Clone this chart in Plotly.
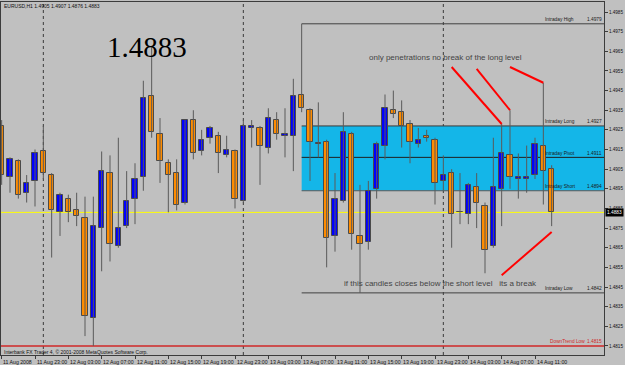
import plotly.graph_objects as go

# ---------------- data ----------------
# H1 bars from 11 Aug 2008 19:00 to 14 Aug 2008 13:00, index = bar number
opens = [1.4927, 1.4901, 1.4909, 1.4893, 1.4899, 1.4914, 1.4902, 1.4883, 1.4890, 1.4884,
         1.4880, 1.4829, 1.4875, 1.4903, 1.4866, 1.4876, 1.4890, 1.4901, 1.4942, 1.4923,
         1.4908, 1.4903, 1.4888, 1.4930, 1.4914, 1.4921, 1.4922, 1.4912, 1.4914, 1.4889,
         1.4926, 1.4926, 1.4916, 1.4930, 1.4922, 1.4922, 1.4943, 1.4935, 1.4918, 1.4919,
         1.4871, 1.4889, 1.4923, 1.4871, 1.4868, 1.4895, 1.4917, 1.4935, 1.4934, 1.4928,
         1.4918, 1.4922, 1.4920, 1.4899, 1.4903, 1.4883, 1.4882, 1.4896, 1.4886, 1.4866,
         1.4895, 1.4912, 1.4900, 1.4900, 1.4902, 1.4917, 1.4905]
highs = [1.4930, 1.4911, 1.4910, 1.4902, 1.4915, 1.4927, 1.4903, 1.4893, 1.4892, 1.4893,
         1.4891, 1.4891, 1.4914, 1.4912, 1.4921, 1.4904, 1.4908, 1.4950, 1.4967, 1.4931,
         1.4910, 1.4910, 1.4930, 1.4935, 1.4925, 1.4927, 1.4924, 1.4922, 1.4915, 1.4930,
         1.4930, 1.4927, 1.4936, 1.4934, 1.4936, 1.4951, 1.4979, 1.4936, 1.4939, 1.4920,
         1.4903, 1.4934, 1.4924, 1.4897, 1.4899, 1.4919, 1.4943, 1.4945, 1.4940, 1.4930,
         1.4926, 1.4925, 1.4921, 1.4912, 1.4905, 1.4903, 1.4898, 1.4903, 1.4888, 1.4921,
         1.4928, 1.4935, 1.4913, 1.4917, 1.4921, 1.4949, 1.4907]
lows = [1.4897, 1.4893, 1.4890, 1.4888, 1.4886, 1.4900, 1.4860, 1.4871, 1.4878, 1.4876,
        1.4820, 1.4815, 1.4853, 1.4858, 1.4865, 1.4875, 1.4877, 1.4894, 1.4921, 1.4898,
        1.4883, 1.4884, 1.4887, 1.4910, 1.4912, 1.4918, 1.4903, 1.4911, 1.4885, 1.4888,
        1.4916, 1.4897, 1.4913, 1.4920, 1.4911, 1.4904, 1.4934, 1.4899, 1.4911, 1.4855,
        1.4863, 1.4888, 1.4864, 1.4842, 1.4864, 1.4890, 1.4910, 1.4931, 1.4916, 1.4908,
        1.4916, 1.4919, 1.4887, 1.4894, 1.4865, 1.4877, 1.4877, 1.4875, 1.4852, 1.4865,
        1.4876, 1.4895, 1.4890, 1.4893, 1.4900, 1.4887, 1.4876]
closes = [1.4902, 1.4910, 1.4892, 1.4898, 1.4913, 1.4903, 1.4884, 1.4892, 1.4883, 1.4881,
          1.4830, 1.4876, 1.4904, 1.4867, 1.4875, 1.4889, 1.4900, 1.4941, 1.4924, 1.4909,
          1.4902, 1.4887, 1.4930, 1.4913, 1.4920, 1.4926, 1.4913, 1.4915, 1.4890, 1.4927,
          1.4927, 1.4917, 1.4931, 1.4923, 1.4923, 1.4942, 1.4936, 1.4919, 1.4918, 1.4870,
          1.4890, 1.4924, 1.4872, 1.4867, 1.4894, 1.4918, 1.4936, 1.4933, 1.4927, 1.4919,
          1.4920, 1.4921, 1.4898, 1.4902, 1.4882, 1.4883, 1.4897, 1.4888, 1.4864, 1.4896,
          1.4913, 1.4901, 1.4901, 1.4901, 1.4918, 1.4904, 1.4883]

time_labels = ["11 Aug 2008", "11 Aug 23:00", "12 Aug 03:00", "12 Aug 07:00", "12 Aug 11:00",
               "12 Aug 15:00", "12 Aug 19:00", "12 Aug 23:00", "13 Aug 03:00", "13 Aug 07:00",
               "13 Aug 11:00", "13 Aug 15:00", "13 Aug 19:00", "13 Aug 23:00", "14 Aug 03:00",
               "14 Aug 07:00", "14 Aug 11:00"]
time_label_bars = [0, 4, 8, 12, 16, 20, 24, 28, 32, 36, 40, 44, 48, 52, 56, 60, 64]
day_separator_bars = [5, 29, 53]

price_ticks = [1.4815, 1.4825, 1.4835, 1.4845, 1.4855, 1.4865, 1.4875, 1.4885, 1.4895,
               1.4905, 1.4915, 1.4925, 1.4935, 1.4945, 1.4955, 1.4965, 1.4975, 1.4985]

level_names = ["Intraday High", "Intraday Long", "Intraday Pivot", "Intraday Short", "Intraday Low"]
level_values = [1.4979, 1.4927, 1.4911, 1.4894, 1.4842]
level_start_bar = 36
downtrend_low = 1.4815
current_price = 1.4883
header_text = "EURUSD,H1 1.4905 1.4907 1.4876 1.4883"
copyright_text = "Interbank FX Trader 4, \u00a9 2001-2008 MetaQuotes Software Corp."

# hand-drawn trend lines: (bar0, price0, bar1, price1)
red_lines = [(54, 1.4957, 60, 1.4928), (57, 1.4956, 61, 1.4935),
             (61, 1.4957, 65, 1.4949), (60, 1.4851, 66, 1.4873)]
note_top = ("only penetrations no break of the long level", 43.9, 1.4962)
note_bottom = ("if this candles closes below the short level   its a break", 41.0, 1.4847)
big_label = ("1.4883", 17.4, 1.4967)

# ---------------- layout geometry ----------------
W, H = 625, 365
L, R, T, B = 1, 604, 2, 355
X_RANGE = [-0.08, 72.28]
Y_RANGE = [1.481038, 1.49901]


def paper_x(px):
    return (px - L) / (R - L)


def paper_y(py):
    return (B - py) / (B - T)


BLUE = "#0000FF"
ORANGE = "#FF8C00"
CYAN = "#14B6E8"
GRID = "#3C3C3C"

idx = list(range(len(opens)))
body_base = [min(o, c) for o, c in zip(opens, closes)]
body_h = [max(abs(c - o), 0.00002) for o, c in zip(opens, closes)]
body_col = [BLUE if c >= o else ORANGE for o, c in zip(opens, closes)]

wx, wy = [], []
for i, h, l in zip(idx, highs, lows):
    wx += [i, i, None]
    wy += [l, h, None]

fig = go.Figure()
fig.add_trace(go.Scatter(x=wx, y=wy, mode="lines", line=dict(color="#5A5A5A", width=1),
                         hoverinfo="skip", showlegend=False))
fig.add_trace(go.Bar(x=idx, y=body_h, base=body_base, width=0.62,
                     marker=dict(color=body_col, line=dict(color="#4A4A4A", width=1)),
                     showlegend=False, hoverinfo="skip"))

shapes = []
shapes.append(dict(type="rect", xref="x", yref="y", x0=level_start_bar, x1=X_RANGE[1],
                   y0=level_values[3], y1=level_values[1], fillcolor=CYAN,
                   line=dict(width=0), layer="below"))
for b in day_separator_bars:
    shapes.append(dict(type="line", xref="x", yref="paper", x0=b, x1=b, y0=0, y1=1,
                       line=dict(color="#3A3A3A", width=1, dash="dot"), layer="below"))
shapes.append(dict(type="line", xref="paper", yref="y", x0=0, x1=1, y0=current_price,
                   y1=current_price, line=dict(color="#FFFF00", width=1), layer="below"))
shapes.append(dict(type="line", xref="paper", yref="y", x0=0, x1=1, y0=downtrend_low,
                   y1=downtrend_low, line=dict(color="#D02828", width=1.5), layer="below"))
level_cols = ["#404040", "#3A3A3A", "#202020", "#5A5A5A", "#404040"]
for v, c in zip(level_values, level_cols):
    shapes.append(dict(type="line", xref="x", yref="y", x0=level_start_bar, x1=X_RANGE[1],
                       y0=v, y1=v, line=dict(color=c, width=1), layer="below"))
for b0, p0, b1, p1 in red_lines:
    shapes.append(dict(type="line", xref="x", yref="y", x0=b0, y0=p0, x1=b1, y1=p1,
                       line=dict(color="#FF0000", width=2)))

ann = []
small = dict(family="Liberation Sans", size=5, color="#111111")
ann.append(dict(text=header_text, xref="paper", yref="paper", x=paper_x(3), y=paper_y(2.5),
                xanchor="left", yanchor="top", showarrow=False, font=small, borderpad=0))
ann.append(dict(text=copyright_text, xref="paper", yref="paper", x=paper_x(3), y=paper_y(352),
                xanchor="left", yanchor="middle", showarrow=False, font=small, borderpad=0))
for lab, b in zip(time_labels, time_label_bars):
    ann.append(dict(text=lab, xref="x", yref="paper", x=b, y=0, xanchor="left", yanchor="top",
                    yshift=-3, xshift=0.5, showarrow=False, borderpad=0,
                    font=dict(family="Liberation Sans", size=5.2, color="#111111")))
lvl_font = dict(family="Liberation Sans", size=4.8, color="#1A1A1A")
for n, v in zip(level_names, level_values):
    ann.append(dict(text=n, xref="paper", yref="y", x=paper_x(544), y=v, xanchor="left",
                    yanchor="bottom", showarrow=False, font=lvl_font, borderpad=0, yshift=0.5))
    ann.append(dict(text=f"{v:.4f}", xref="paper", yref="y", x=paper_x(603), y=v,
                    xanchor="right", yanchor="bottom", showarrow=False, font=lvl_font,
                    borderpad=0, yshift=0.5))
red_font = dict(family="Liberation Sans", size=4.8, color="#D02828")
ann.append(dict(text="DownTrend Low", xref="paper", yref="y", x=paper_x(549), y=downtrend_low,
                xanchor="left", yanchor="bottom", showarrow=False, font=red_font, borderpad=0,
                yshift=0.8))
ann.append(dict(text=f"{downtrend_low:.4f}", xref="paper", yref="y", x=paper_x(603),
                y=downtrend_low, xanchor="right", yanchor="bottom", showarrow=False,
                font=red_font, borderpad=0, yshift=0.8))
ann.append(dict(text=f"{current_price:.4f}", xref="paper", yref="y", x=1, y=current_price,
                xanchor="left", yanchor="middle", xshift=1, showarrow=False, bgcolor="#000000",
                borderpad=1, font=dict(family="Liberation Sans", size=4.8, color="#FFFFFF")))
note_font = dict(family="Liberation Sans", size=8, color="#444444")
for txt, b, p in (note_top, note_bottom):
    ann.append(dict(text=txt, xref="x", yref="y", x=b, y=p, xanchor="left", yanchor="middle",
                    showarrow=False, font=note_font, borderpad=0))
ann.append(dict(text=big_label[0], xref="x", yref="y", x=big_label[1], y=big_label[2],
                xanchor="center", yanchor="middle", showarrow=False, borderpad=0,
                font=dict(family="Liberation Serif", size=29, color="#000000")))

fig.update_layout(
    width=W, height=H,
    margin=dict(l=L, r=W - R, t=T, b=H - B, pad=0),
    paper_bgcolor="#C0C0C0", plot_bgcolor="#C0C0C0",
    showlegend=False, bargap=0, shapes=shapes, annotations=ann,
    xaxis=dict(range=X_RANGE, showgrid=False, zeroline=False, showline=True, mirror=True,
               linecolor=GRID, linewidth=1, ticks="outside", ticklen=3, tickcolor=GRID,
               tickvals=time_label_bars, showticklabels=False, fixedrange=True),
    yaxis=dict(range=Y_RANGE, side="right", showgrid=False, zeroline=False, showline=True,
               mirror=True, linecolor=GRID, linewidth=1, ticks="outside", ticklen=3,
               tickcolor=GRID, tickvals=price_ticks, ticktext=[f"{v:.4f}" for v in price_ticks],
               tickfont=dict(family="Liberation Sans", size=4.6, color="#111111"),
               fixedrange=True),
)

fig.write_html("out.html")
